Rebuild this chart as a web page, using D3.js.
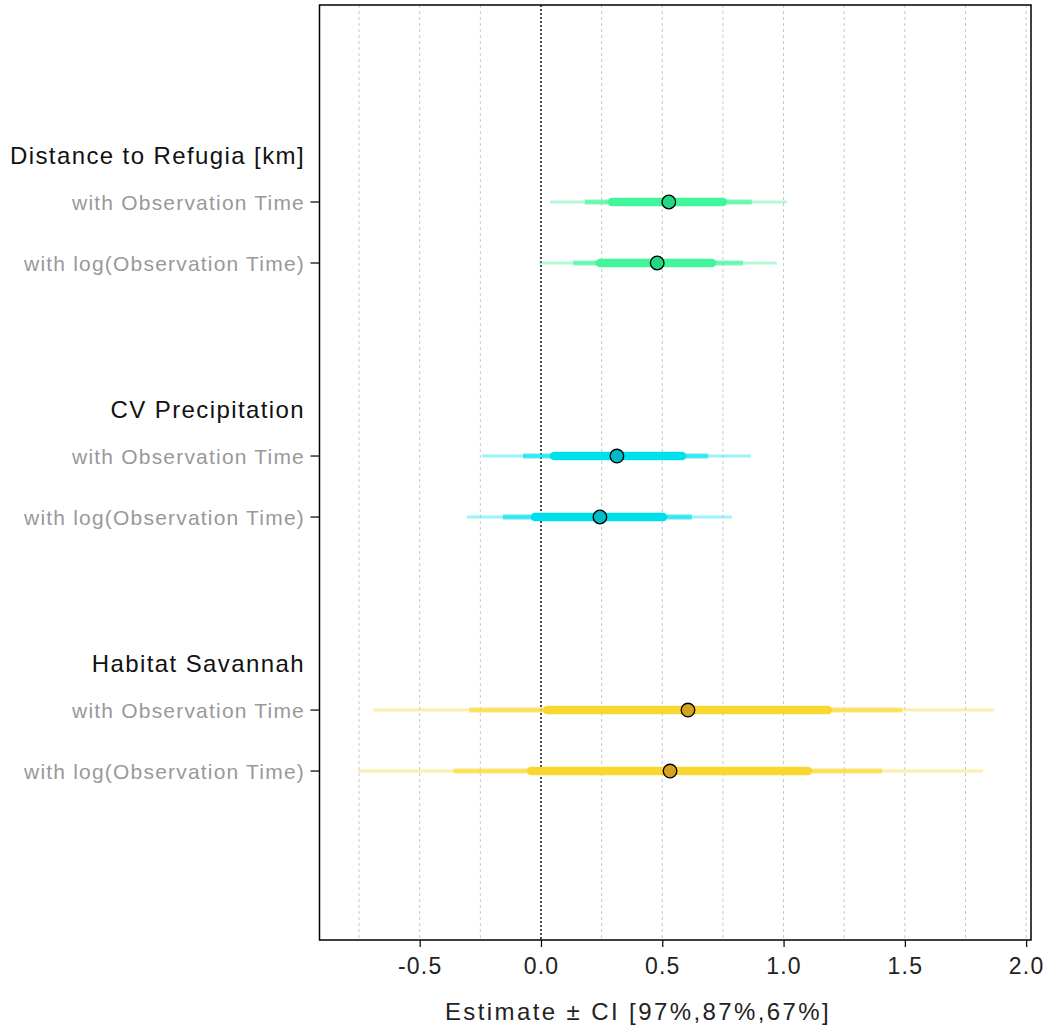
<!DOCTYPE html>
<html>
<head>
<meta charset="utf-8">
<script src="https://cdn.jsdelivr.net/npm/d3@7"></script>
<style>
body { margin: 0; background: #fff; }
text { font-family: "Liberation Sans", Arial, sans-serif; }
</style>
</head>
<body>
<div id="chart"></div>
<script>
// data
var groups = ["Distance to Refugia [km]", "CV Precipitation", "Habitat Savannah"];
var rowLabels = ["with Observation Time", "with log(Observation Time)"];
var groupColors = ["#40f59a", "#00e0ec", "#f8d830"];
var pointColors = ["#22d886", "#00bcc8", "#d4a21e"];
var estimates = [0.527, 0.479, 0.313, 0.243, 0.606, 0.532];
var ci97lo = [0.037, -0.008, -0.243, -0.305, -0.692, -0.753];
var ci97hi = [1.014, 0.972, 0.865, 0.787, 1.867, 1.822];
var ci87lo = [0.181, 0.133, -0.074, -0.157, -0.296, -0.361];
var ci87hi = [0.869, 0.833, 0.689, 0.622, 1.490, 1.406];
var ci67lo = [0.293, 0.243, 0.054, -0.025, 0.025, -0.041];
var ci67hi = [0.750, 0.705, 0.581, 0.503, 1.183, 1.101];
var xTicks = [-0.5, 0, 0.5, 1, 1.5, 2];
var gridVals = [-0.75, -0.5, -0.25, 0.25, 0.5, 0.75, 1, 1.25, 1.5, 1.75, 2];

var widthPage = 1044, heightPage = 1028;
var box = {left: 319.5, right: 1031, top: 5, bottom: 940};

var svg = d3.select("#chart").append("svg").attr("width", widthPage).attr("height", heightPage);

var x = d3.scaleLinear().domain([-0.913, 2.02]).range([box.left, box.right]);
var y = d3.scaleLinear().domain([0, 15.33]).range([box.top, box.bottom]);

var rows = [];
groups.forEach(function(g, gi) {
    rowLabels.forEach(function(r, ri) {
        var k = gi * 2 + ri;
        rows.push({group: gi, label: r, pos: 3.23 + gi * 4.165 + ri,
            est: estimates[k], lo97: ci97lo[k], hi97: ci97hi[k],
            lo87: ci87lo[k], hi87: ci87hi[k], lo67: ci67lo[k], hi67: ci67hi[k]});
    });
});
var headers = groups.map(function(g, gi) { return {label: g, pos: 3.23 + gi * 4.165 - 0.77}; });

// grid
svg.append("g").selectAll("line").data(gridVals).enter().append("line")
    .attr("x1", d => x(d)).attr("x2", d => x(d))
    .attr("y1", box.top).attr("y2", box.bottom)
    .attr("stroke", "#c8c8c8").attr("stroke-width", 1).attr("stroke-dasharray", "3,3");
svg.append("line").attr("x1", x(0)).attr("x2", x(0)).attr("y1", box.top).attr("y2", box.bottom)
    .attr("stroke", "#000").attr("stroke-width", 1.4).attr("stroke-dasharray", "2,2");

// intervals
var bars = svg.append("g");
var levels = [["lo97", "hi97", 3, 0.4, "butt"], ["lo87", "hi87", 5, 0.65, "butt"], ["lo67", "hi67", 8.5, 1, "round"]];
levels.forEach(function(l) {
    bars.selectAll(null).data(rows).enter().append("line")
        .attr("x1", d => x(d[l[0]])).attr("x2", d => x(d[l[1]]))
        .attr("y1", d => y(d.pos)).attr("y2", d => y(d.pos))
        .attr("stroke", d => groupColors[d.group]).attr("stroke-opacity", l[3])
        .attr("stroke-width", l[2]).attr("stroke-linecap", l[4]);
});
svg.append("g").selectAll("circle").data(rows).enter().append("circle")
    .attr("cx", d => x(d.est)).attr("cy", d => y(d.pos)).attr("r", 6.8)
    .attr("fill", d => pointColors[d.group]).attr("stroke", "#000").attr("stroke-width", 1.3);

// frame
svg.append("rect").attr("x", box.left).attr("y", box.top)
    .attr("width", box.right - box.left).attr("height", box.bottom - box.top)
    .attr("fill", "none").attr("stroke", "#000").attr("stroke-width", 1.5);

// x axis
var xaxis = svg.append("g").attr("transform", `translate(0,${box.bottom})`)
    .call(d3.axisBottom(x).tickValues(xTicks).tickSize(7).tickFormat(d3.format(".1f")));
xaxis.select(".domain").remove();
xaxis.selectAll(".tick line").attr("stroke", "#000").attr("stroke-width", 1.2);
xaxis.selectAll(".tick text").attr("font-size", "23px").attr("fill", "#222")
    .attr("letter-spacing", "1.2px").attr("dy", "0.78em").attr("y", 16)
    .text(d => d3.format(".1f")(d).replace("−", "-"));

svg.append("text").attr("x", 638).attr("y", 1020).attr("text-anchor", "middle")
    .attr("font-size", "24px").attr("letter-spacing", "2.4px").attr("fill", "#222")
    .text("Estimate ± CI [97%,87%,67%]");

// y labels
var ylab = svg.append("g");
ylab.selectAll("line").data(rows).enter().append("line")
    .attr("x1", box.left - 9).attr("x2", box.left)
    .attr("y1", d => y(d.pos)).attr("y2", d => y(d.pos))
    .attr("stroke", "#000").attr("stroke-width", 1.2);
ylab.selectAll(".rowlab").data(rows).enter().append("text").classed("rowlab", true)
    .attr("x", 305).attr("y", d => y(d.pos)).attr("dy", "0.36em").attr("text-anchor", "end")
    .attr("font-size", "21px").attr("letter-spacing", "1.2px").attr("fill", "#999")
    .text(d => d.label);
ylab.selectAll(".grplab").data(headers).enter().append("text").classed("grplab", true)
    .attr("x", 305).attr("y", d => y(d.pos)).attr("dy", "0.36em").attr("text-anchor", "end")
    .attr("font-size", "24px").attr("letter-spacing", "1.4px").attr("fill", "#111")
    .text(d => d.label);
</script>
</body>
</html>
